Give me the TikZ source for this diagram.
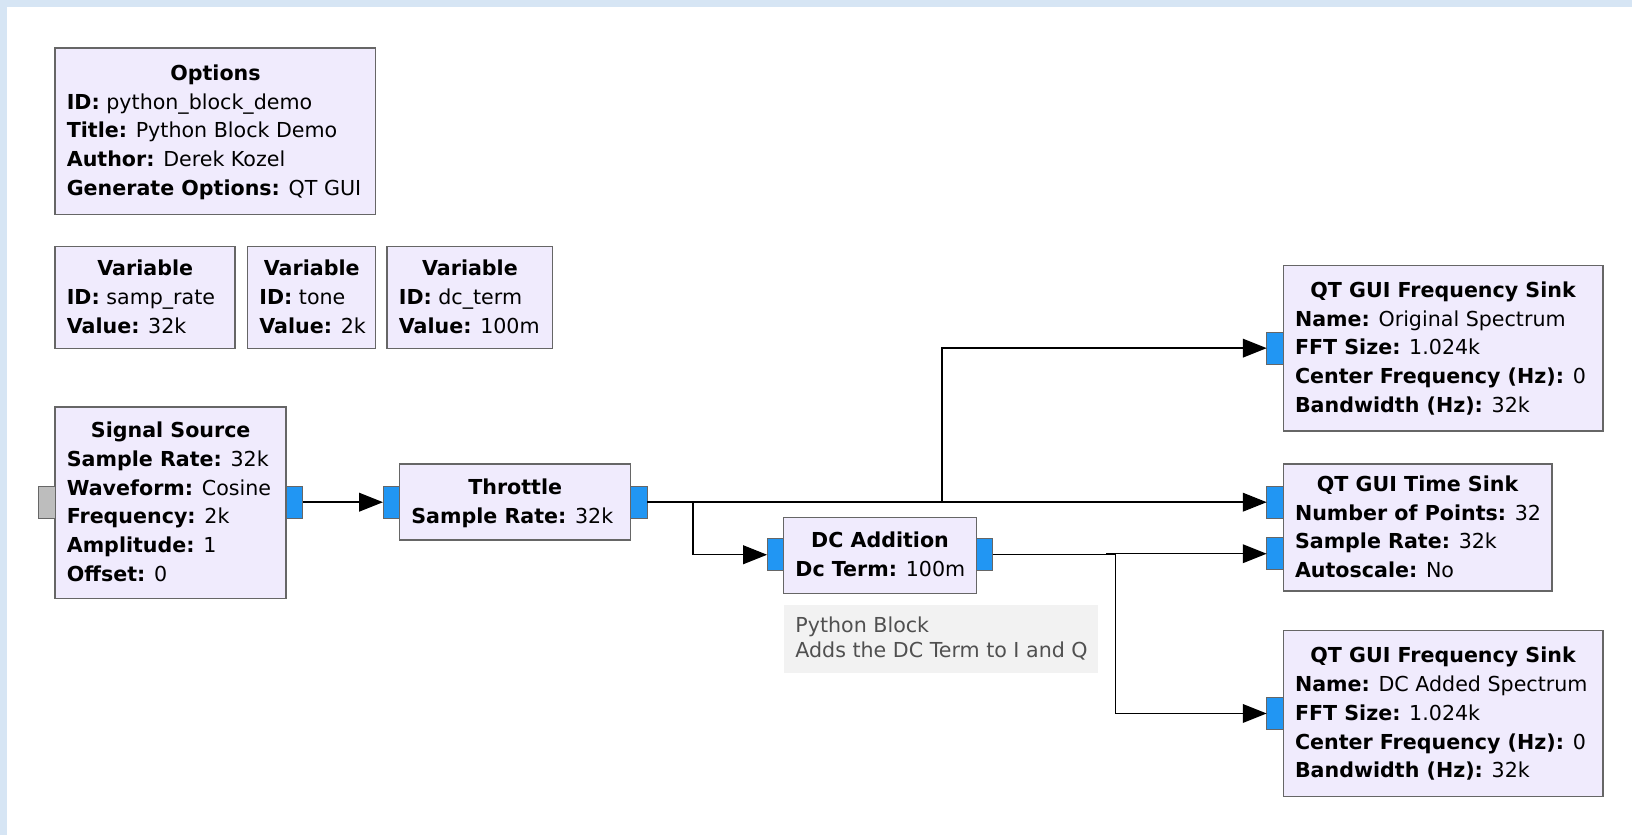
\documentclass[tikz,border=0pt]{standalone}
\usepackage{fontspec}
\setmainfont{DejaVu Sans}
\usetikzlibrary{arrows.meta,fit,calc}

\definecolor{blockfill}{HTML}{F0EBFD}
\definecolor{blockedge}{HTML}{666666}
\definecolor{portblue}{HTML}{2196F3}
\definecolor{portgrey}{HTML}{BDBDBD}
\definecolor{bgblue}{HTML}{D6E5F4}
\definecolor{notefill}{HTML}{F2F2F2}
\definecolor{notetext}{HTML}{505050}

\tikzset{
  block/.style={draw=blockedge, fill=blockfill, line width=1.4pt, inner sep=0pt, outer sep=0pt},
  port/.style={draw=blockedge, fill=portblue, line width=1pt, minimum width=16pt,
               minimum height=31pt, inner sep=0pt, outer sep=0pt},
  idleport/.style={port, fill=portgrey},
  titletext/.style={anchor=base, inner sep=0pt, font=\fontsize{19.8pt}{27.7pt}\selectfont\bfseries},
  linetext/.style={anchor=base west, inner sep=0pt, font=\fontsize{19.8pt}{27.7pt}\selectfont},
  notebox/.style={fill=notefill, inner sep=0pt, outer sep=0pt},
  notetext/.style={anchor=base west, inner sep=0pt, text=notetext,
                   font=\fontsize{19.8pt}{24pt}\selectfont},
  wire/.style={line width=1.4pt, -{Triangle[length=23pt,width=18pt]}}
}

% #1 name, #2-#5 corners, #6 number of text lines, #7 title, #8 key/value list
\newcommand\grblock[8]{%
  \node[block, fit={(#2,#3) (#4,#5)}] (#1) {};
  \pgfmathsetmacro\titlebase{(#3+#5)/2 - (#6-1)/2*27.7 + 6.5}
  \node[titletext] (#1-title) at ({(#2+#4)/2},\titlebase) {#7};
  \foreach \k/\v [count=\i] in {#8} {
    \node[linetext] (#1-line\i) at ({#2+11},{\titlebase+\i*27.7}) {\textbf{\k:} \v};
  }
}

\begin{document}
\begin{tikzpicture}[x=1pt, y=-1pt]
  \useasboundingbox (0,0) rectangle (1568,802);
  \fill[white] (0,0) rectangle (1568,802);
  \fill[bgblue] (0,0) rectangle (1568,7);
  \fill[bgblue] (0,0) rectangle (7,802);

  % blocks
  \grblock{opts}{53}{46}{361}{206}{5}{Options}
    {ID/python\_block\_demo, Title/Python Block Demo, Author/Derek Kozel, Generate Options/QT GUI}
  \grblock{var1}{53}{237}{226}{335}{3}{Variable}{ID/samp\_rate, Value/32k}
  \grblock{var2}{238}{237}{361}{335}{3}{Variable}{ID/tone, Value/2k}
  \grblock{var3}{372}{237}{531}{335}{3}{Variable}{ID/dc\_term, Value/100m}
  \grblock{src}{53}{391}{275}{575}{6}{Signal Source}
    {Sample Rate/32k, Waveform/Cosine, Frequency/2k, Amplitude/1, Offset/0}
  \grblock{thr}{384}{446}{606}{519}{2}{Throttle}{Sample Rate/32k}
  \grblock{dc}{753}{497}{938}{570}{2}{DC Addition}{Dc Term/100m}
  \grblock{fs1}{1233}{255}{1540}{414}{5}{QT GUI Frequency Sink}
    {Name/Original Spectrum, FFT Size/1.024k, {Center Frequency (Hz)}/0, {Bandwidth (Hz)}/32k}
  \grblock{ts}{1233}{446}{1491}{568}{4}{QT GUI Time Sink}
    {Number of Points/32, Sample Rate/32k, Autoscale/No}
  \grblock{fs2}{1233}{606}{1540}{765}{5}{QT GUI Frequency Sink}
    {Name/DC Added Spectrum, FFT Size/1.024k, {Center Frequency (Hz)}/0, {Bandwidth (Hz)}/32k}

  % comment attached to the DC block
  \node[notebox, fit={(753,581) (1055,647)}] (note) {};
  \node[notetext] (note1) at (764,608) {Python Block};
  \node[notetext] (note2) at (764,632) {Adds the DC Term to I and Q};

  % ports
  \node[idleport] (src-in) at (45,482.5) {};
  \node[port] (src-out) at (283,482.5) {};
  \node[port] (thr-in) at (376,482.5) {};
  \node[port] (thr-out) at (614,482.5) {};
  \node[port] (dc-in) at (745,533) {};
  \node[port] (dc-out) at (946,533) {};
  \node[port] (fs1-in) at (1225,334.5) {};
  \node[port] (ts-in1) at (1225,482.5) {};
  \node[port] (ts-in2) at (1225,532) {};
  \node[port] (fs2-in) at (1225,685.5) {};

  % bends of the connections
  \coordinate (b1) at (666,0);
  \coordinate (b2) at (905,0);
  \coordinate (b3) at (1063,0);
  \coordinate (b4) at (1072,0);

  % connections
  \draw[wire] (src-out.east) -- (thr-in.west);
  \draw[wire] (thr-out.east) -- (ts-in1.west);
  \draw[wire] (thr-out.east) -- (thr-out.east -| b1) |- (dc-in.west);
  \draw[wire] (thr-out.east) -- (thr-out.east -| b2) |- (fs1-in.west);
  \draw[wire] (dc-out.east) -- (dc-out.east -| b3) -- (ts-in2.west -| b3) -- (ts-in2.west);
  \draw[wire] (dc-out.east) -- (dc-out.east -| b4) |- (fs2-in.west);
\end{tikzpicture}
\end{document}
